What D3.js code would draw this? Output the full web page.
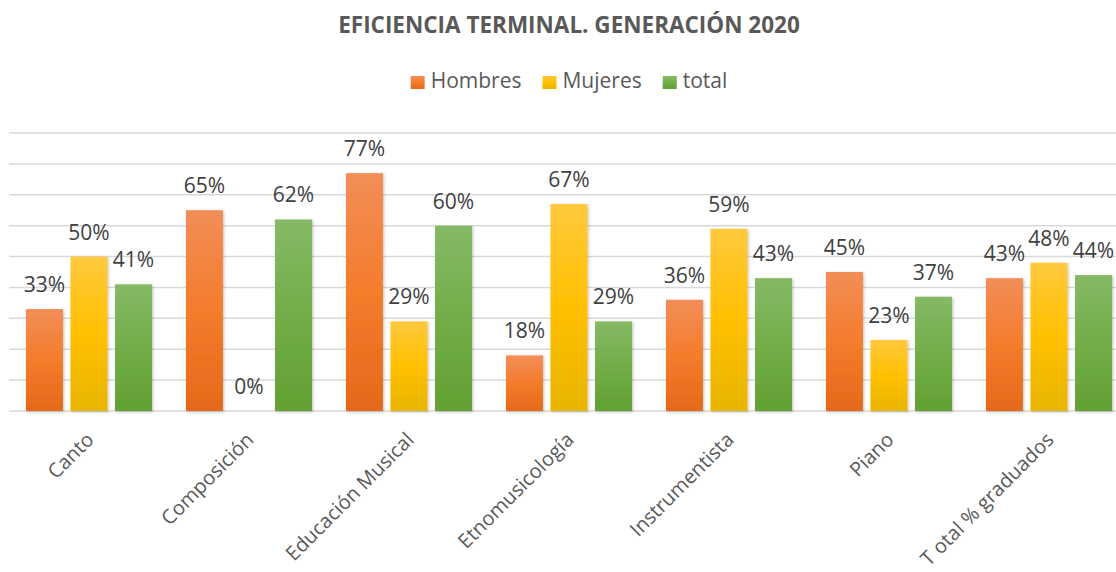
<!DOCTYPE html>
<html>
<head>
<meta charset="utf-8">
<script src="https://cdn.jsdelivr.net/npm/d3@7"></script>
<style>
  body { margin: 0; background: #fff; }
  svg { display: block; font-family: "Open Sans", sans-serif; }
</style>
</head>
<body>
<svg id="chart" width="1116" height="572"></svg>
<script>
// chart data
const categories = ["Canto", "Composición", "Educación Musical", "Etnomusicología", "Instrumentista", "Piano", "T otal % graduados"];
const seriesNames = ["Hombres", "Mujeres", "total"];
const hombres = [33, 65, 77, 18, 36, 45, 43];
const mujeres = [50, 0, 29, 67, 59, 23, 48];
const total = [41, 62, 60, 29, 43, 37, 44];
const yTicks = [0, 10, 20, 30, 40, 50, 60, 70, 80, 90];
const titleText = "EFICIENCIA TERMINAL. GENERACIÓN 2020";

const seriesValues = [hombres, mujeres, total];
// gradient stops: top, middle, bottom
const colors = [
  ["#f28e58", "#f47c2c", "#e5691b"],
  ["#ffc93d", "#ffc000", "#e8b500"],
  ["#86b966", "#71ae48", "#62a033"]
];

const svg = d3.select("#chart");
const fullWidth = 1138; // the original chart is a bit wider than the crop
const cx = fullWidth / 2;

const defs = svg.append("defs");
colors.forEach((c, i) => {
  const g = defs.append("linearGradient")
    .attr("id", "grad" + i)
    .attr("x1", 0).attr("y1", 0).attr("x2", 0).attr("y2", 1);
  g.append("stop").attr("offset", "0%").attr("stop-color", c[0]);
  g.append("stop").attr("offset", "50%").attr("stop-color", c[1]);
  g.append("stop").attr("offset", "100%").attr("stop-color", c[2]);
});
const shadow = defs.append("filter").attr("id", "shadow")
  .attr("x", "-20%").attr("y", "-20%").attr("width", "140%").attr("height", "140%");
shadow.append("feDropShadow")
  .attr("dx", 1).attr("dy", 1).attr("stdDeviation", 1.5)
  .attr("flood-color", "#000").attr("flood-opacity", 0.25);

// scales
const x0 = d3.scaleBand()
  .domain(categories)
  .range([9, 1129])
  .paddingInner(0.2125)
  .paddingOuter(0.10625);

const x1 = d3.scaleBand()
  .domain(seriesNames)
  .range([0, x0.bandwidth()])
  .paddingInner(0.17);

const y = d3.scaleLinear()
  .domain([0, 90])
  .range([411, 133]);

// title
svg.append("text")
  .attr("x", cx)
  .attr("y", 33)
  .attr("text-anchor", "middle")
  .attr("font-size", 22.5)
  .attr("font-weight", "bold")
  .attr("fill", "#595959")
  .text(titleText);

// legend
const legend = svg.append("g");
let lx = 0;
seriesNames.forEach((name, i) => {
  const item = legend.append("g").attr("transform", `translate(${lx},0)`);
  item.append("rect")
    .attr("x", 0).attr("y", 76).attr("width", 14).attr("height", 13)
    .attr("fill", `url(#grad${i})`);
  const t = item.append("text")
    .attr("x", 20).attr("y", 88)
    .attr("font-size", 21)
    .attr("fill", "#595959")
    .text(name);
  lx += 20 + t.node().getComputedTextLength() + 21;
});
const legendW = lx - 21;
legend.attr("transform", `translate(${cx - legendW / 2},0)`);

// gridlines
svg.append("g")
  .selectAll("line")
  .data(yTicks)
  .join("line")
  .attr("x1", 9)
  .attr("x2", 1116)
  .attr("y1", d => y(d))
  .attr("y2", d => y(d))
  .attr("stroke", "#d9d9d9")
  .attr("stroke-width", 1.5);

// bars
const groups = svg.append("g")
  .selectAll("g")
  .data(categories)
  .join("g")
  .attr("transform", d => `translate(${x0(d)},0)`);

const cells = groups.selectAll("g")
  .data((d, ci) => seriesNames.map((s, si) => ({ s, si, v: seriesValues[si][ci] })))
  .join("g");

cells.filter(d => d.v > 0)
  .append("rect")
  .attr("x", d => x1(d.s))
  .attr("width", x1.bandwidth())
  .attr("y", d => y(d.v))
  .attr("height", d => y(0) - y(d.v))
  .attr("fill", d => `url(#grad${d.si})`)
  .attr("filter", "url(#shadow)");

cells.append("text")
  .attr("x", d => x1(d.s) + x1.bandwidth() / 2)
  .attr("y", d => y(d.v) - 17)
  .attr("text-anchor", "middle")
  .attr("font-size", 21)
  .attr("fill", "#404040")
  .text(d => d.v + "%");

// category axis labels
svg.append("g")
  .selectAll("text")
  .data(categories)
  .join("text")
  .attr("transform", d => `translate(${x0(d) + x0.bandwidth() / 2 + 6},441) rotate(-45)`)
  .attr("text-anchor", "end")
  .attr("font-size", 20)
  .attr("fill", "#595959")
  .text(d => d);
</script>
</body>
</html>
